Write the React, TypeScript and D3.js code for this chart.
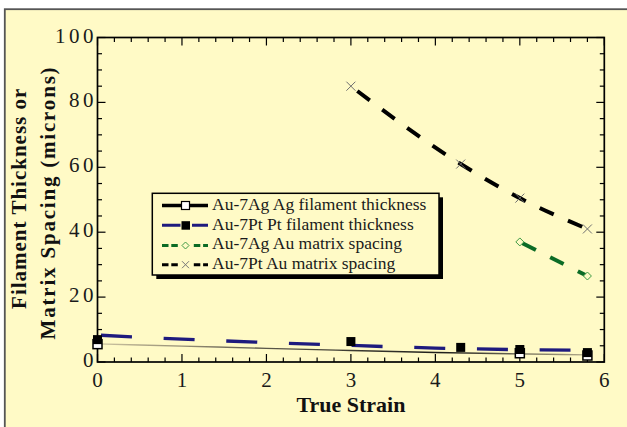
import React from "react";
import * as d3 from "d3";

// ---- data ----
const xTicks = [0, 1, 2, 3, 4, 5, 6];
const yTicks = [0, 20, 40, 60, 80, 100];

const strainPtMatrix = [3, 4.3, 5, 5.8];
const ptMatrixSpacing = [85, 61, 50.5, 41];

const strainAgMatrix = [5, 5.8];
const agMatrixSpacing = [37, 26.5];

const strainPtFil = [0, 3, 4.3, 5, 5.8];
const ptFilament = [6.9, 6.3, 4.5, 3.85, 2.9];

const strainAgFil = [0, 5, 5.8];
const agFilament = [5.5, 2.7, 2.0];

// fitted trend curves
const ptFitStrain = [0, 1, 2, 3, 4, 5, 5.6];
const ptFit = [8.3, 7.05, 6.0, 5.1, 4.3, 3.8, 3.65];
const agFitStrain = [0, 1, 2, 3, 4, 5, 5.8];
const agFit = [5.6, 4.9, 4.2, 3.55, 2.95, 2.5, 2.2];

const legendLabels = [
  "Au-7Ag Ag filament thickness",
  "Au-7Pt Pt filament thickness",
  "Au-7Ag Au matrix spacing",
  "Au-7Pt Au matrix spacing",
];

const BG = "#fffac6";
const NAVY = "#1e1a7e";
const GREEN = "#0b6b25";
const FONT = "'Liberation Serif', 'Times New Roman', serif";

export default function App() {
  const L = 97.5, R = 604.3, T = 37.5, B = 362;
  const x = d3.scaleLinear().domain([0, 6]).range([L, R]);
  const y = d3.scaleLinear().domain([0, 100]).range([B, T]);

  const zip = (xs: number[], ys: number[]) => xs.map((v, i) => [v, ys[i]] as [number, number]);
  const smooth = d3.line<[number, number]>().x(d => x(d[0])).y(d => y(d[1])).curve(d3.curveMonotoneX);

  const minorX = d3.range(0, 6.0001, 0.2).map(v => +v.toFixed(2));
  const minorY = d3.range(0, 100.001, 5);

  const sq = 9;
  const lgX0 = 162, lgX1 = 208, lgXm = 185.5, lgText = 212;
  const lgBase = [210, 229.5, 249, 268.5];

  const xMark = (cx: number, cy: number, s: number, key: string, color = "#6e6e6e") => (
    <g key={key} stroke={color} strokeWidth={1}>
      <line x1={cx - s} y1={cy - s} x2={cx + s} y2={cy + s} />
      <line x1={cx - s} y1={cy + s} x2={cx + s} y2={cy - s} />
    </g>
  );
  const diamond = (cx: number, cy: number, s: number, key: string) => (
    <path key={key} d={`M${cx},${cy - s}L${cx + s},${cy}L${cx},${cy + s}L${cx - s},${cy}Z`}
      fill={BG} stroke="#3f9a45" strokeWidth={1} />
  );

  return (
    <svg width={627} height={427} style={{ position: "absolute", left: 0, top: 0, background: "#fff" }}>
      <defs>
        <linearGradient id="thinGrad" gradientUnits="userSpaceOnUse" x1={x(0)} y1={0} x2={x(5.8)} y2={0}>
          <stop offset="0%" stopColor="#cfc6a2" />
          <stop offset="35%" stopColor="#5a5648" />
          <stop offset="70%" stopColor="#1e1e1a" />
          <stop offset="100%" stopColor="#b3ab8a" />
        </linearGradient>
      </defs>
      {/* frame */}
      <rect x={4.8} y={9.2} width={700} height={500} fill={BG} stroke="#555" strokeWidth={1.8} />

      {/* ticks */}
      <g stroke="#000" strokeWidth={1.2}>
        {minorX.map(v => {
          const major = Math.abs(v - Math.round(v)) < 1e-6;
          const len = major ? 8 : 4.5;
          return (
            <g key={"xt" + v}>
              <line x1={x(v)} x2={x(v)} y1={B} y2={B - len} />
              <line x1={x(v)} x2={x(v)} y1={T} y2={T + len} />
            </g>
          );
        })}
        {minorY.map(v => {
          const major = v % 20 === 0;
          const len = major ? 8 : 4.5;
          return (
            <g key={"yt" + v}>
              <line x1={L} x2={L + len} y1={y(v)} y2={y(v)} />
              <line x1={R} x2={R - len} y1={y(v)} y2={y(v)} />
            </g>
          );
        })}
      </g>
      <rect x={L} y={T} width={R - L} height={B - T} fill="none" stroke="#000" strokeWidth={1.7} />

      {/* tick labels */}
      <g fontFamily={FONT} fontSize={21} fill="#1a1a1a">
        {xTicks.map(v => (
          <text key={"xl" + v} x={x(v)} y={387} textAnchor="middle">{v}</text>
        ))}
        {yTicks.map(v => (
          <text key={"yl" + v} x={97} y={y(v) + 5} textAnchor="end" letterSpacing={3.5}>{v}</text>
        ))}
      </g>

      {/* axis titles */}
      <text x={x(3)} y={411.7} textAnchor="middle" fontFamily={FONT} fontWeight="bold" fontSize={22} fill="#111">True Strain</text>
      <text transform="translate(25.5,198.3) rotate(-90)" textAnchor="middle" fontFamily={FONT} fontWeight="bold" fontSize={21} letterSpacing={1} fill="#111">Filament Thickness or</text>
      <text transform="translate(55,202.5) rotate(-90)" textAnchor="middle" fontFamily={FONT} fontWeight="bold" fontSize={21} letterSpacing={1.8} fill="#111">Matrix Spacing (microns)</text>

      {/* lines */}
      <path d={smooth(zip(agFitStrain, agFit)) || ""} fill="none" stroke="url(#thinGrad)" strokeWidth={1.4} />
      <path d={smooth(zip(ptFitStrain, ptFit)) || ""} fill="none" stroke={NAVY} strokeWidth={3.3}
        strokeDasharray="31,31.7" strokeDashoffset={59.2} />
      <path d={smooth(zip(strainPtMatrix, ptMatrixSpacing)) || ""} fill="none" stroke="#000" strokeWidth={4}
        strokeDasharray="15.5,15.5" strokeDashoffset={23} />
      <path d={smooth(zip(strainAgMatrix, agMatrixSpacing)) || ""} fill="none" stroke={GREEN} strokeWidth={4}
        strokeDasharray="15,16" strokeDashoffset={28} />

      {/* markers */}
      {strainAgFil.map((s, i) => (
        <rect key={"ag" + i} x={x(s) - sq / 2} y={y(agFilament[i]) - sq / 2} width={sq} height={sq}
          fill="#fff" stroke="#000" strokeWidth={1.5} />
      ))}
      {strainPtFil.map((s, i) => (
        <rect key={"pt" + i} x={x(s) - sq / 2} y={y(ptFilament[i]) - sq / 2} width={sq} height={sq} fill="#000" />
      ))}
      {strainPtMatrix.map((s, i) => xMark(x(s), y(ptMatrixSpacing[i]), 4.5, "xm" + i))}
      {strainAgMatrix.map((s, i) => diamond(x(s), y(agMatrixSpacing[i]), 4, "dm" + i))}

      {/* legend */}
      <rect x={156.3} y={197.3} width={286.7} height={81.7} fill="#000" />
      <rect x={152.3} y={193.3} width={286.7} height={81.7} fill={BG} stroke="#000" strokeWidth={1.5} />
      <g>
        <line x1={lgX0} x2={lgX1} y1={lgBase[0] - 4.5} y2={lgBase[0] - 4.5} stroke="#000" strokeWidth={3.3} />
        <rect x={lgXm - 4} y={lgBase[0] - 8.5} width={8} height={8} fill="#fff" stroke="#000" strokeWidth={1.2} />

        <line x1={lgX0} x2={lgX1} y1={lgBase[1] - 4.3} y2={lgBase[1] - 4.3} stroke={NAVY} strokeWidth={3}
          strokeDasharray="18.5,11.5,17" />
        <rect x={lgXm - 4} y={lgBase[1] - 8.3} width={8.5} height={8.5} fill="#000" />

        <line x1={lgX0} x2={lgX1} y1={lgBase[2] - 3.5} y2={lgBase[2] - 3.5} stroke={GREEN} strokeWidth={3}
          strokeDasharray="6.5,2.8,6.5,16,6.5,2.8,6.5" />
        {diamond(lgXm, lgBase[2] - 3.5, 3.5, "lgd")}

        <line x1={lgX0} x2={lgX1} y1={lgBase[3] - 3.8} y2={lgBase[3] - 3.8} stroke="#000" strokeWidth={3}
          strokeDasharray="6.5,2.8,6.5,16,6.5,2.8,6.5" />
        {xMark(lgXm, lgBase[3] - 3.8, 3.5, "lgx", "#777")}
      </g>
      <g fontFamily={FONT} fontSize={17.5} fill="#1a1a1a">
        {legendLabels.map((t, i) => (
          <text key={t} x={lgText} y={lgBase[i]}>{t}</text>
        ))}
      </g>
    </svg>
  );
}
